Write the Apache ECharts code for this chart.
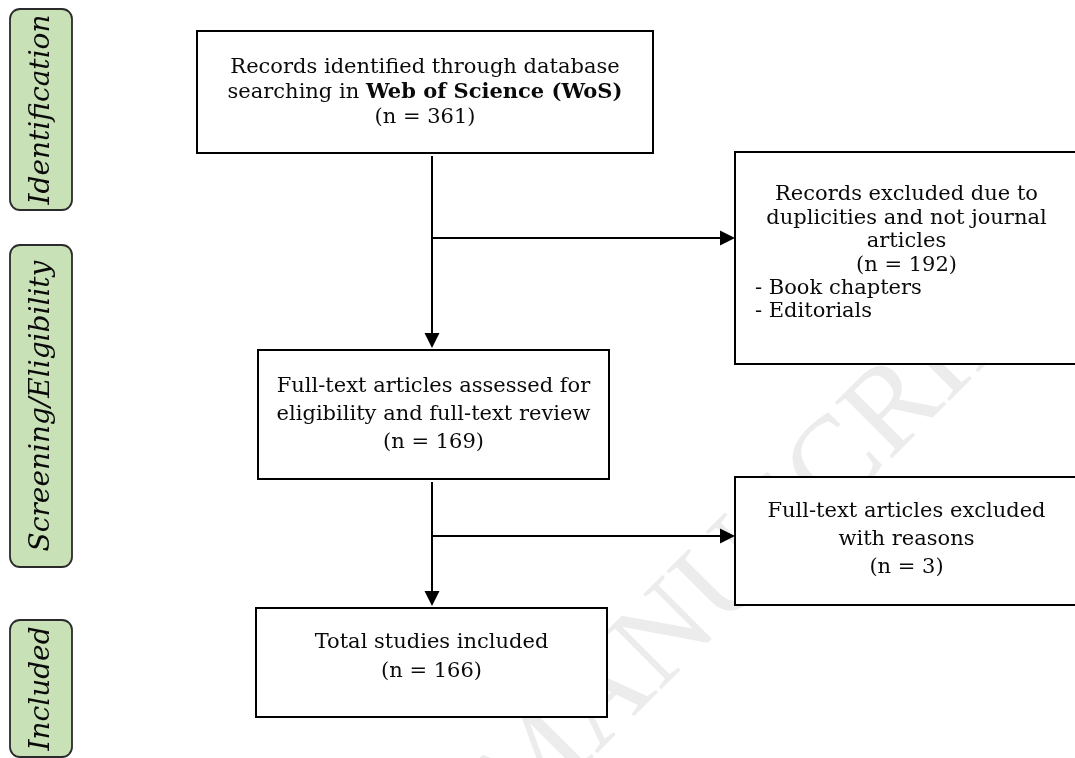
<!DOCTYPE html>
<html>
<head>
<meta charset="utf-8">
<script src="https://cdn.jsdelivr.net/npm/echarts@6/dist/echarts.min.js"></script>
<style>
html,body{margin:0;padding:0;background:#fff;}
#chart{width:1075px;height:758px;}
</style>
</head>
<body>
<div id="chart"></div>
<script>
// ---------- data ----------
const stageLabels = ['Identification', 'Screening/Eligibility', 'Included'];
const nodeIds = ['identified', 'excludedDup', 'assessed', 'excludedFull', 'included'];
const nodeCounts = [361, 192, 169, 3, 166];
const nodeText = [
  ['Records identified through database', 'searching in {b|Web of Science (WoS)}'],
  ['Records excluded due to', 'duplicities and not journal', 'articles'],
  ['Full-text articles assessed for', 'eligibility and full-text review'],
  ['Full-text articles excluded', 'with reasons'],
  ['Total studies included']
];
const exclusionTypes = ['Book chapters', 'Editorials'];
const links = [[0, 2], [0, 1], [2, 4], [2, 3]];
const watermark = 'MANUSCRIPT';

// ---------- layout (positions and styles) ----------
const layout = {
  nodes: [
    {x0: 197, y0: 31, x1: 653, y1: 153, firstY: 68, gap: 25},
    {x0: 735, y0: 152, x1: 1078, y1: 364, firstY: 195, gap: 23.4, listX: 755},
    {x0: 258, y0: 350, x1: 609, y1: 479, firstY: 387, gap: 28},
    {x0: 735, y0: 477, x1: 1078, y1: 605, firstY: 512, gap: 28},
    {x0: 256, y0: 608, x1: 607, y1: 717, firstY: 643, gap: 29}
  ],
  trunkX: 432,
  branchY: {1: 238, 3: 536},
  stages: [{y0: 9, y1: 210}, {y0: 245, y1: 567}, {y0: 620, y1: 757}],
  stageX0: 10, stageX1: 72
};
const FONT = '"DejaVu Serif", "Liberation Serif", serif';
const TXT = '#0a0a0a';
const FS = 21;

function nodeLines(i) {
  const lines = nodeText[i].map(t => ({text: t, align: 'center'}));
  lines.push({text: '(n = ' + nodeCounts[i] + ')', align: 'center'});
  if (nodeIds[i] === 'excludedDup') {
    exclusionTypes.forEach(t => lines.push({text: '- ' + t, align: 'left'}));
  }
  return lines;
}

const chart = echarts.init(document.getElementById('chart'));
chart.setOption({
  animation: false,
  backgroundColor: '#fff',
  grid: {left: 0, right: 0, top: 0, bottom: 0},
  xAxis: {type: 'value', min: 0, max: 1075, show: false},
  yAxis: {type: 'value', min: 0, max: 758, inverse: true, show: false},
  graphic: [{
    type: 'text', z: -10, x: 775, y: 530, rotation: Math.PI / 4,
    style: {text: watermark, fontFamily: '"Liberation Serif", serif', fontSize: 122,
      fill: '#ececec', align: 'center', verticalAlign: 'middle'}
  }],
  series: [
    {
      type: 'custom', coordinateSystem: 'cartesian2d', silent: true, clip: false, z: 3,
      data: stageLabels.map((s, i) => [i, 0]),
      renderItem: function (params, api) {
        const i = api.value(0);
        const st = layout.stages[i];
        const p0 = api.coord([layout.stageX0, st.y0]);
        const p1 = api.coord([layout.stageX1, st.y1]);
        return {
          type: 'group',
          children: [
            {type: 'rect', shape: {x: p0[0], y: p0[1], width: p1[0] - p0[0], height: p1[1] - p0[1], r: 10},
              style: {fill: '#c8e1b6', stroke: '#2b2b2b', lineWidth: 1.8}},
            {type: 'text', x: (p0[0] + p1[0]) / 2 + 1, y: (p0[1] + p1[1]) / 2, rotation: Math.PI / 2,
              style: {text: stageLabels[i], fontFamily: FONT, fontStyle: 'italic', fontSize: 28,
                fill: TXT, align: 'center', verticalAlign: 'middle'}}
          ]
        };
      }
    },
    {
      type: 'custom', coordinateSystem: 'cartesian2d', silent: true, clip: false, z: 3,
      data: nodeIds.map((s, i) => [i, 0]),
      renderItem: function (params, api) {
        const i = api.value(0);
        const nd = layout.nodes[i];
        const p0 = api.coord([nd.x0, nd.y0]);
        const p1 = api.coord([nd.x1, nd.y1]);
        const cx = (p0[0] + p1[0]) / 2;
        const children = [
          {type: 'rect', shape: {x: p0[0], y: p0[1], width: p1[0] - p0[0], height: p1[1] - p0[1]},
            style: {fill: '#fff', stroke: '#000', lineWidth: 2}}
        ];
        const lx = nd.listX !== undefined ? api.coord([nd.listX, 0])[0] : cx;
        nodeLines(i).forEach((ln, k) => {
          const y = api.coord([0, nd.firstY + k * nd.gap])[1];
          children.push({type: 'text', x: ln.align === 'left' ? lx : cx, y: y,
            style: {text: ln.text, fontFamily: FONT, fontSize: FS, fill: TXT,
              align: ln.align, verticalAlign: 'middle',
              rich: {b: {fontFamily: FONT, fontSize: FS, fontWeight: 'bold', fill: TXT}}}});
        });
        return {type: 'group', children: children};
      }
    },
    {
      type: 'custom', coordinateSystem: 'cartesian2d', silent: true, clip: false, z: 4,
      data: links.map((l, i) => [i, 0]),
      renderItem: function (params, api) {
        const [s, t] = links[api.value(0)];
        const src = layout.nodes[s], tgt = layout.nodes[t];
        let a, b, head;
        const hw = 7.5, hl = 15;
        if (layout.branchY[t] !== undefined) {
          const by = layout.branchY[t];
          a = api.coord([layout.trunkX, by]);
          b = api.coord([tgt.x0, by]);
          head = [[b[0], b[1]], [b[0] - hl, b[1] - hw], [b[0] - hl, b[1] + hw]];
          b = [b[0] - hl + 1, b[1]];
        } else {
          a = api.coord([layout.trunkX, src.y1 + 3]);
          b = api.coord([layout.trunkX, tgt.y0 - 2]);
          head = [[b[0], b[1]], [b[0] - hw, b[1] - hl], [b[0] + hw, b[1] - hl]];
          b = [b[0], b[1] - hl + 1];
        }
        return {
          type: 'group',
          children: [
            {type: 'line', shape: {x1: a[0], y1: a[1], x2: b[0], y2: b[1]},
              style: {stroke: '#000', lineWidth: 2}},
            {type: 'polygon', shape: {points: head}, style: {fill: '#000'}}
          ]
        };
      }
    }
  ]
});
</script>
</body>
</html>
